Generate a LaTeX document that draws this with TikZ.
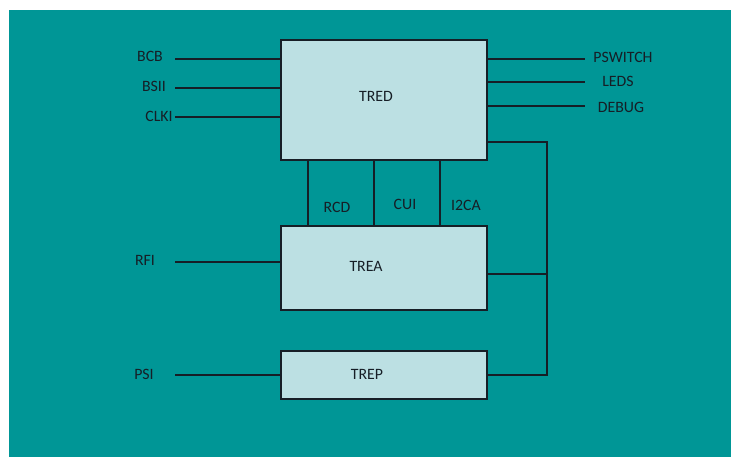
\documentclass[tikz,border=0pt]{standalone}
\usepackage{fontspec}
\setmainfont{Carlito}
\usepackage{xcolor}
\usetikzlibrary{positioning, calc}

\definecolor{bgteal}{RGB}{0,150,150}
\definecolor{boxfill}{RGB}{188,224,227}
\definecolor{inkdark}{RGB}{22,30,38}

\begin{document}
\begin{tikzpicture}[
    x=0.02cm, y=-0.02cm,
    block/.style  = {rectangle, draw=inkdark, line width=0.8pt, fill=boxfill,
                     minimum width=4.12cm, inner sep=0pt},
    sig/.style    = {font=\fontsize{9}{11}\selectfont, text=inkdark, inner sep=1pt},
    wire/.style   = {draw=inkdark, line width=0.75pt},
    every label/.style = {font=\fontsize{9}{11}\selectfont, text=inkdark}
  ]

  % ── Frame ───────────────────────────────────────────────────
  \useasboundingbox (0,0) rectangle (731,457);
  \fill[bgteal] (9,10) rectangle (731,457);

  % ── Blocks ──────────────────────────────────────────────────
  \node[block, minimum height=2.4cm,
        label={[xshift=-0.16cm, yshift=0.08cm]center:TRED}]  (tred) at (384,100) {};
  \node[block, minimum height=1.68cm,
        label={[xshift=-0.36cm, yshift=0.04cm]center:TREA}]  (trea) at (384,268) {};
  \node[block, minimum height=0.96cm,
        label={[xshift=-0.34cm, yshift=0.02cm]center:TREP}]  (trep) at (384,375) {};

  % ── Signal names ────────────────────────────────────────────
  \node[sig] (bcb)  at (150,56)  {BCB};
  \node[sig] (bsii) at (154,86)  {BSII};
  \node[sig] (clki) at (159,116) {CLKI};
  \node[sig] (rfi)  at (145,260) {RFI};
  \node[sig] (psi)  at (144,374) {PSI};

  \node[sig] (psw)  at (623,57)  {PSWITCH};
  \node[sig] (leds) at (618,81)  {LEDS};
  \node[sig] (dbg)  at (621,107) {DEBUG};

  \node[sig] (rcd)  at (337,207) {RCD};
  \node[sig] (cui)  at (405,204) {CUI};
  \node[sig] (i2ca) at (466,205) {I2CA};

  % ── Free wire ends ──────────────────────────────────────────
  \coordinate (bcbin)  at (175,59);
  \coordinate (bsiiin) at (175,88);
  \coordinate (clkiin) at (175,117);
  \coordinate (rfiin)  at (175,262);
  \coordinate (psiin)  at (175,375);
  \coordinate (pswout) at (585,59);
  \coordinate (ledout) at (585,82);
  \coordinate (dbgout) at (585,106);
  \coordinate (rcdx)   at (308,0);
  \coordinate (cuix)   at (374,0);
  \coordinate (i2cax)  at (440,0);
  \coordinate (bustop) at (547,142);
  \coordinate (busmid) at (547,274);

  % ── Inputs ──────────────────────────────────────────────────
  \draw[wire] (bcbin)  -- (bcbin -| tred.west);
  \draw[wire] (bsiiin) -- (bsiiin -| tred.west);
  \draw[wire] (clkiin) -- (clkiin -| tred.west);
  \draw[wire] (rfiin)  -- (rfiin -| trea.west);
  \draw[wire] (psiin)  -- (psiin -| trep.west);

  % ── Outputs ─────────────────────────────────────────────────
  \draw[wire] (pswout -| tred.east) -- (pswout);
  \draw[wire] (ledout -| tred.east) -- (ledout);
  \draw[wire] (dbgout -| tred.east) -- (dbgout);

  % ── TRED ↔ TREA links ───────────────────────────────────────
  \draw[wire] (tred.south -| rcdx)  -- (trea.north -| rcdx);
  \draw[wire] (tred.south -| cuix)  -- (trea.north -| cuix);
  \draw[wire] (tred.south -| i2cax) -- (trea.north -| i2cax);

  % ── Common bus on the right ─────────────────────────────────
  \draw[wire] (bustop -| tred.east) -- (bustop) |- (trep.east);
  \draw[wire] (busmid -| trea.east) -- (busmid);

\end{tikzpicture}
\end{document}
